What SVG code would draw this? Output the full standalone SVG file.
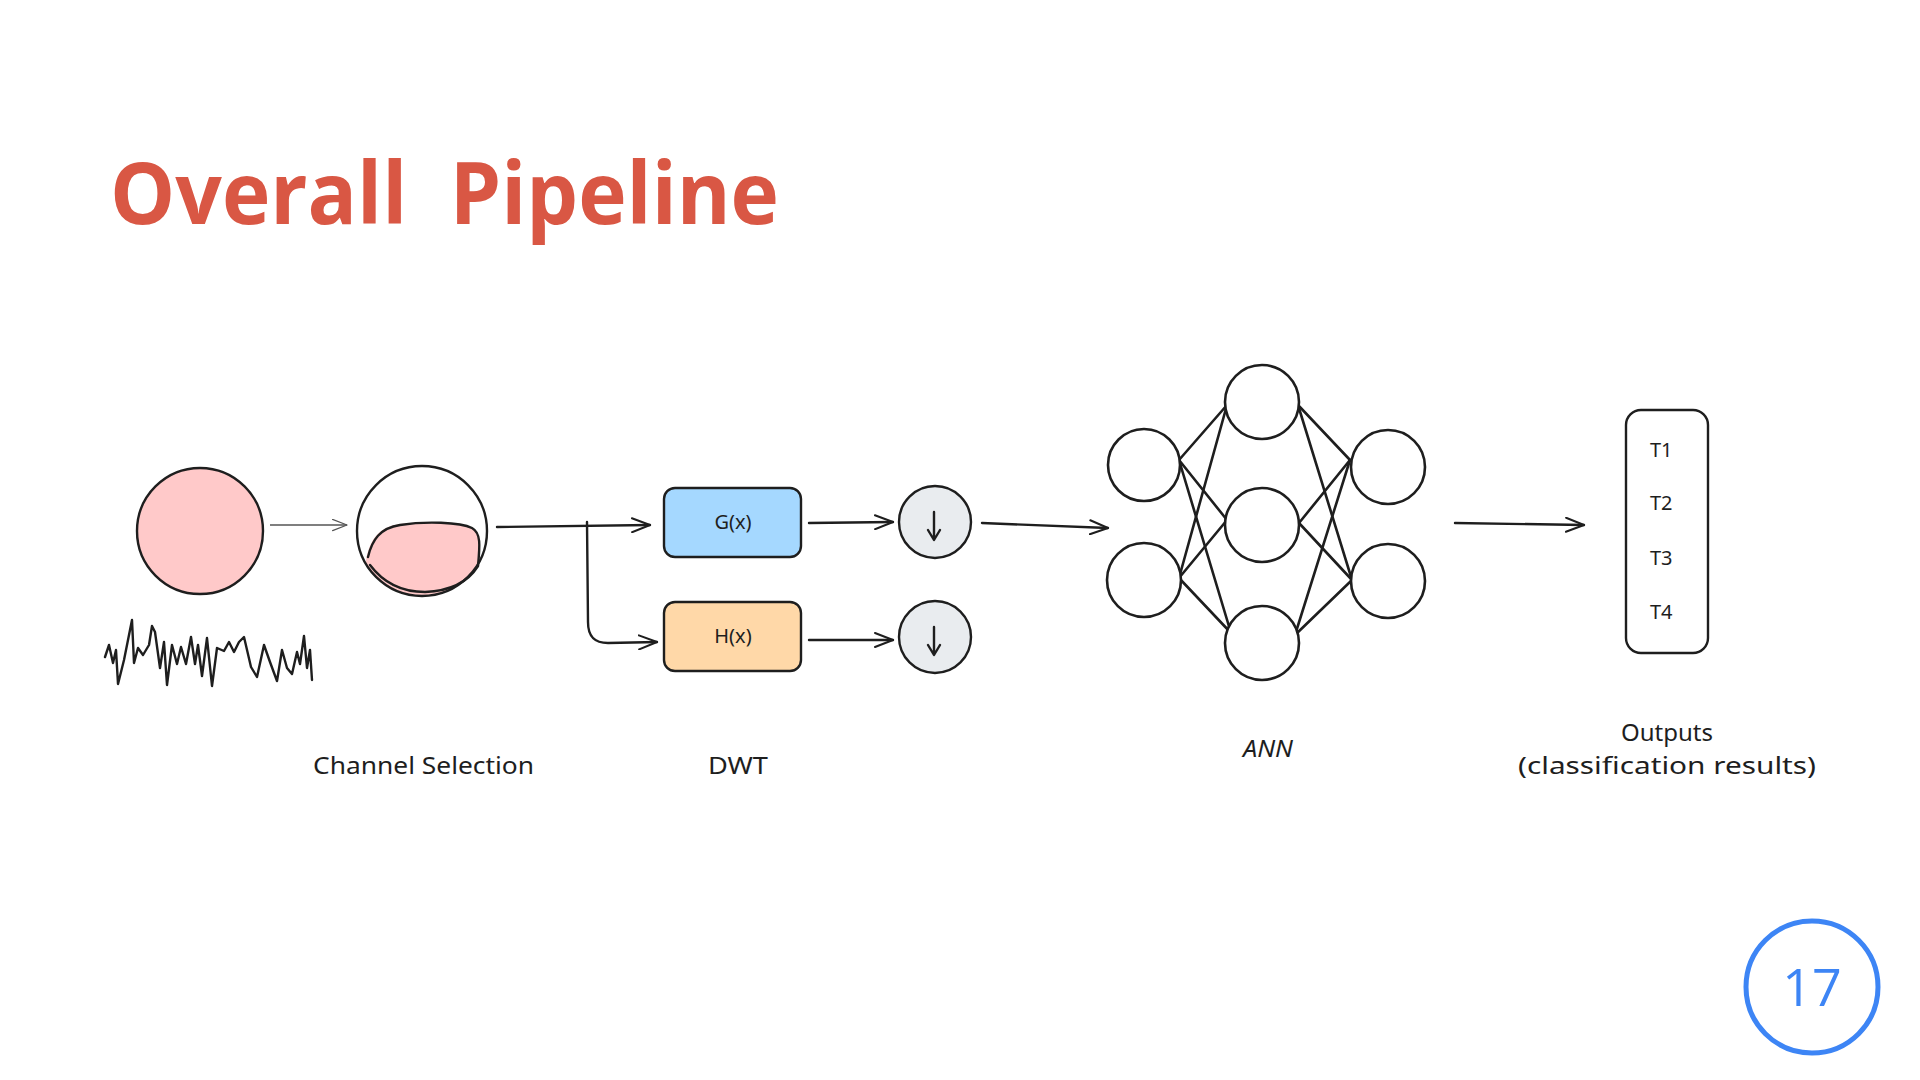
<svg xmlns="http://www.w3.org/2000/svg" width="1920" height="1080" viewBox="0 0 1920 1080">
<defs>
<marker id="ah" viewBox="0 0 20 16" refX="19" refY="8" markerWidth="20" markerHeight="16" markerUnits="userSpaceOnUse" orient="auto">
<path d="M1,1 L19,8 L1,15" fill="none" stroke="#1e1e1e" stroke-width="2" stroke-linecap="round" stroke-linejoin="round"/>
</marker>
<marker id="ahs" viewBox="0 0 20 16" refX="19" refY="8" markerWidth="16" markerHeight="13" markerUnits="userSpaceOnUse" orient="auto">
<path d="M1,1 L19,8 L1,15" fill="none" stroke="#555" stroke-width="1.6" stroke-linecap="round" stroke-linejoin="round"/>
</marker>
<clipPath id="c2"><circle cx="422" cy="531" r="65"/></clipPath>
</defs>
<style>
.s{fill:none;stroke:#1e1e1e;stroke-width:2.4;stroke-linecap:round;stroke-linejoin:round}
.n{fill:#ffffff;stroke:#1e1e1e;stroke-width:2.6}
.lbl{font-family:"Noto Sans","DejaVu Sans",sans-serif;font-size:24px;fill:#1e1e1e}
.t{font-family:"Noto Sans","DejaVu Sans",sans-serif;font-size:20px;fill:#1e1e1e}
.c{stroke:#1e1e1e;stroke-width:2.6;fill:none;stroke-linecap:round}
</style>
<rect width="1920" height="1080" fill="#ffffff"/>
<text x="110" y="224" font-family="'Open Sans','Noto Sans',sans-serif" font-weight="700" font-size="86" fill="#D95744" xml:space="preserve" textLength="669" lengthAdjust="spacingAndGlyphs">Overall  Pipeline</text>

<g id="eeg">
<circle cx="200" cy="531" r="63" fill="#ffc9c9" stroke="#1e1e1e" stroke-width="2.4"/>
<polyline class="s" stroke-width="2.6" points="105,657 109,645 113,663 116,650 118,684 124,660 132,620 134,663 138,648 143,655 149,645 152,626 155,632 160,668 164,642 167,685 172,645 177,664 181,647 186,664 191,637 195,664 198,645 202,676 207,638 212,686 217,648 224,651 229,642 234,652 239,642 244,637 251,667 257,677 264,645 270,662 277,681 282,650 287,668 292,674 297,652 300,664 304,636 307,668 310,650 312,680"/>
</g>

<g id="channel">
<circle cx="422" cy="531" r="65" fill="#ffffff" stroke="none"/>
<path d="M366,560 C370,540 378,527 400,524 C425,521 460,522 472,528 C481,533 480,545 479,562 L479,600 L366,600 Z" fill="#ffc9c9" stroke="none" clip-path="url(#c2)"/>
<path class="s" d="M368,557 C372,540 380,528 400,525 C425,521 460,522 472,528 C481,533 480,545 478,566"/>
<path class="s" d="M370,565 C385,585 405,592 425,592 C450,591 468,582 478,566"/>
<circle cx="422" cy="531" r="65" fill="none" stroke="#1e1e1e" stroke-width="2.4"/>
</g>

<g id="gx">
<rect x="664" y="488" width="137" height="69" rx="11" fill="#a5d8ff" stroke="#1e1e1e" stroke-width="2.4"/>
<text class="t" x="733" y="529" text-anchor="middle">G(x)</text>
</g>
<g id="hx">
<rect x="664" y="602" width="137" height="69" rx="11" fill="#ffd8a8" stroke="#1e1e1e" stroke-width="2.4"/>
<text class="t" x="733" y="643" text-anchor="middle">H(x)</text>
</g>

<g id="down1">
<circle cx="935" cy="522" r="36" fill="#e9ecef" stroke="#1e1e1e" stroke-width="2.4"/>
<path class="s" d="M934,512 L934,539 M928,530 L934,540 L940,530"/>
</g>
<g id="down2">
<circle cx="935" cy="637" r="36" fill="#e9ecef" stroke="#1e1e1e" stroke-width="2.4"/>
<path class="s" d="M934,627 L934,654 M928,645 L934,655 L940,645"/>
</g>

<g id="ann">
<g id="ann-edges" class="c">
<line x1="1179" y1="460" x2="1227" y2="405"/>
<line x1="1179" y1="460" x2="1227" y2="520"/>
<line x1="1179" y1="460" x2="1231" y2="633"/>
<line x1="1179" y1="578" x2="1227" y2="405"/>
<line x1="1179" y1="578" x2="1227" y2="520"/>
<line x1="1179" y1="578" x2="1231" y2="633"/>
<line x1="1298" y1="405" x2="1350" y2="460"/>
<line x1="1298" y1="405" x2="1352" y2="580"/>
<line x1="1299" y1="523" x2="1350" y2="460"/>
<line x1="1299" y1="523" x2="1352" y2="580"/>
<line x1="1295" y1="635" x2="1350" y2="460"/>
<line x1="1295" y1="635" x2="1352" y2="580"/>
</g>
<circle id="ann-i1" class="n" cx="1144" cy="465" r="36"/>
<circle id="ann-i2" class="n" cx="1144" cy="580" r="37"/>
<circle id="ann-h1" class="n" cx="1262" cy="402" r="37"/>
<circle id="ann-h2" class="n" cx="1262" cy="525" r="37"/>
<circle id="ann-h3" class="n" cx="1262" cy="643" r="37"/>
<circle id="ann-o1" class="n" cx="1388" cy="467" r="37"/>
<circle id="ann-o2" class="n" cx="1388" cy="581" r="37"/>
</g>

<g id="outputs">
<rect x="1626" y="410" width="82" height="243" rx="15" fill="#ffffff" stroke="#1e1e1e" stroke-width="2.4"/>
<text class="t" x="1650" y="457">T1</text>
<text class="t" x="1650" y="510">T2</text>
<text class="t" x="1650" y="565">T3</text>
<text class="t" x="1650" y="619">T4</text>
</g>

<g id="connectors">
<line x1="270" y1="525" x2="347" y2="525" stroke="#555" stroke-width="1.6" marker-end="url(#ahs)"/>
<line class="s" x1="497" y1="527" x2="650" y2="525" marker-end="url(#ah)"/>
<path class="s" d="M587,522 L588,622 C588,636 594,643 608,643 L657,642" marker-end="url(#ah)"/>
<line class="s" x1="809" y1="523" x2="893" y2="522" marker-end="url(#ah)"/>
<line class="s" x1="809" y1="640" x2="893" y2="640" marker-end="url(#ah)"/>
<line class="s" x1="982" y1="523" x2="1108" y2="528" marker-end="url(#ah)"/>
<line class="s" x1="1455" y1="523" x2="1584" y2="525" marker-end="url(#ah)"/>
</g>

<g id="labels">
<text class="lbl" x="313" y="774" textLength="221" lengthAdjust="spacingAndGlyphs">Channel Selection</text>
<text class="lbl" x="708" y="774" textLength="60" lengthAdjust="spacingAndGlyphs">DWT</text>
<text class="lbl" x="1243" y="757" font-style="italic" textLength="50" lengthAdjust="spacingAndGlyphs">ANN</text>
<text class="lbl" x="1667" y="741" text-anchor="middle">Outputs</text>
<text class="lbl" x="1518" y="774" textLength="298" lengthAdjust="spacingAndGlyphs">(classification results)</text>
</g>

<g id="page">
<circle cx="1812" cy="987" r="66" fill="none" stroke="#3d85f5" stroke-width="5"/>
<text x="1812" y="1006" text-anchor="middle" font-family="'Open Sans','Noto Sans',sans-serif" font-weight="400" font-size="52" fill="#3d85f5">17</text>
</g>
</svg>
